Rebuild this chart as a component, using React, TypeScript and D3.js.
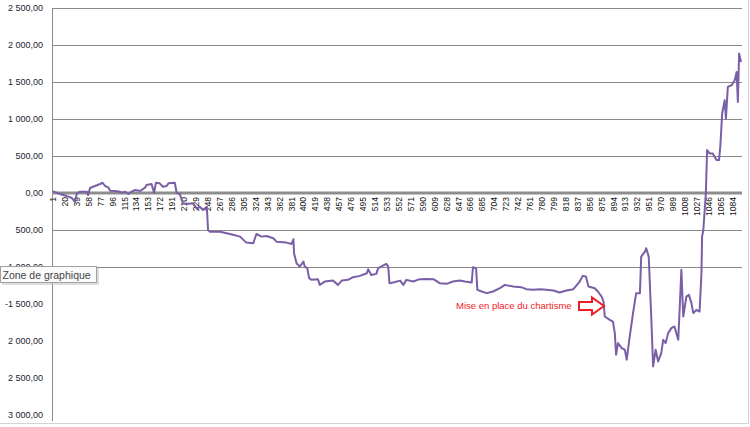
import React from 'react';
import * as d3 from 'd3';

const categories: number[] = [
  1, 20, 39, 58, 77, 96, 115, 134, 153, 172, 191, 210, 229, 248, 267, 286, 305, 324, 343, 362,
  381, 400, 419, 438, 457, 476, 495, 514, 533, 552, 571, 590, 609, 628, 647, 666, 685, 704, 723,
  742, 761, 780, 799, 818, 837, 856, 875, 894, 913, 932, 951, 970, 989, 1008, 1027, 1046, 1065, 1084,
];

const pointIndex: number[] = [
  1, 7, 12, 23, 31, 36, 39, 44, 55, 57, 60, 68, 76, 80, 84, 89, 92, 100, 108, 110, 116, 121, 126,
  132, 140, 148, 150, 158, 162, 165, 171, 176, 182, 185, 195, 198, 203, 208, 214, 224, 230, 235,
  240, 246, 248, 251, 267, 283, 299, 309, 320, 325, 333, 341, 352, 357, 373, 381, 384, 385, 389,
  394, 400, 402, 406, 409, 413, 423, 426, 434, 447, 455, 461, 471, 479, 490, 501, 503, 508, 516,
  519, 532, 535, 537, 543, 554, 559, 564, 575, 585, 596, 607, 617, 628, 638, 649, 657, 668, 670,
  675, 677, 684, 692, 702, 713, 721, 734, 747, 755, 766, 776, 787, 798, 803, 808, 819, 830, 840,
  845, 850, 854, 864, 869, 875, 878, 880, 888, 893, 896, 898, 901, 907, 912, 915, 919, 925, 930,
  936, 938, 944, 946, 950, 954, 957, 961, 965, 970, 973, 977, 981, 986, 991, 997, 999, 1002, 1005,
  1010, 1014, 1018, 1021, 1026, 1031, 1034, 1035, 1037, 1041, 1043, 1047, 1052, 1058, 1062, 1064,
  1067, 1071, 1073, 1076, 1082, 1087, 1090, 1092, 1094, 1097,
];

const pointValue: number[] = [
  20, 5, -14, -41, -68, -118, -4, 18, 18, -27, 68, 95, 122, 139, 95, 77, 31, 27, 18, 4, 18, -14, 18,
  41, 27, 77, 108, 122, 4, 139, 131, 85, 95, 131, 139, 4, -14, -139, -149, -139, -207, -185,
  -230, -185, -500, -523, -523, -554, -590, -671, -680, -554, -590, -581, -612, -658, -671, -689,
  -626, -815, -950, -996, -928, -996, -1017, -1152, -1175, -1166, -1243, -1198, -1185, -1243,
  -1185, -1175, -1139, -1121, -1085, -1031, -1108, -1094, -1017, -959, -996, -1220, -1212, -1185,
  -1243, -1175, -1198, -1166, -1162, -1166, -1220, -1229, -1198, -1185, -1198, -1212, -1004,
  -1017, -1310, -1333, -1355, -1333, -1288, -1243, -1266, -1274, -1301, -1310, -1301, -1310,
  -1320, -1333, -1347, -1320, -1301, -1198, -1121, -1131, -1266, -1288, -1333, -1401, -1469,
  -1671, -1716, -1739, -1896, -2189, -2031, -2098, -2121, -2256, -1986, -1625, -1355, -1355, -861,
  -793, -747, -861, -1671, -2347, -2121, -2279, -2166, -1986, -2031, -1896, -1828, -1806, -1986,
  -1625, -1040, -1671, -1401, -1378, -1490, -1625, -1581, -1604, -1085, -590, -500, -4, 581, 536,
  536, 446, 446, 626, 1077, 1256, 1009, 1436, 1459, 1527, 1639, 1233, 1887, 1774,
];

const yTickValues: number[] = [2500, 2000, 1500, 1000, 500, 0, -500, -1000, -1500, -2000, -2500, -3000];
const yTickLabels: string[] = [
  '2 500,00', '2 000,00', '1 500,00', '1 000,00', '500,00', '0,00', '500,00', '1 000,00',
  '-1 500,00', '2 000,00', '2 500,00', '3 000,00',
];
const gridValues: number[] = [2500, 2000, 1500, 1000, 500, -500, -1000];

const annotationText = 'Mise en place du chartisme';
const tooltipText = 'Zone de graphique';

export default function App() {
  const W = 750;
  const H = 427;
  const x = d3.scaleLinear().domain([1, 1097]).range([53, 741]);
  const y = d3.scaleLinear().domain([-3000, 2500]).range([414.7, 8.3]);
  const data = pointIndex.map((d, i) => [d, pointValue[i]] as [number, number]);
  const line = d3
    .line<[number, number]>()
    .x((d) => x(d[0]))
    .y((d) => y(d[1]));
  const font = '"Liberation Sans", Arial, sans-serif';
  const x0 = 52;
  const x1 = 742;

  return (
    <svg
      width={W}
      height={H}
      style={{ position: 'absolute', left: 0, top: 0, background: '#fff' }}
      fontFamily={font}
    >
      <rect x={0} y={0} width={W} height={H} fill="#fff" />
      {/* outer frame */}
      <line x1={0} x2={748} y1={423.5} y2={423.5} stroke="#d4d4d4" strokeWidth={1} />
      <line x1={748.5} x2={748.5} y1={0} y2={424} stroke="#d4d4d4" strokeWidth={1} />
      {/* gridlines */}
      {gridValues.map((v) => (
        <line
          key={'g' + v}
          x1={x0}
          x2={x1}
          y1={Math.round(y(v)) + 0.5}
          y2={Math.round(y(v)) + 0.5}
          stroke="#8a8a8a"
          strokeWidth={1}
        />
      ))}
      {/* y axis line */}
      <line x1={x0 + 0.5} x2={x0 + 0.5} y1={8} y2={421} stroke="#8a8a8a" strokeWidth={1} />
      {/* y labels */}
      {yTickValues.map((v, i) => (
        <text
          key={'yl' + v}
          x={43}
          y={y(v) + 3}
          textAnchor="end"
          fontSize={9}
          fill="#1c1c30"
        >
          {yTickLabels[i]}
        </text>
      ))}
      {/* zero axis */}
      <line x1={x0} x2={x1} y1={y(0)} y2={y(0)} stroke="#8e8e8e" strokeWidth={3} />
      {/* x labels */}
      {categories.map((c) => (
        <text
          key={'xl' + c}
          transform={`translate(${x(c) + 3},${197}) rotate(-90)`}
          textAnchor="end"
          fontSize={8.5}
          fill="#111"
        >
          {String(c)}
        </text>
      ))}
      {/* series */}
      <path d={line(data) || ''} fill="none" stroke="#7a5fa6" strokeWidth={2} strokeLinejoin="round" />
      {/* annotation */}
      <text x={456} y={309} fontSize={9.5} fill="#ee1c25">
        {annotationText}
      </text>
      <path
        d="M579,302 L592,302 L592,297.5 L604,306 L592,314.5 L592,310 L579,310 Z"
        fill="#fff"
        stroke="#ee1c25"
        strokeWidth={2}
        strokeLinejoin="miter"
      />
      {/* tooltip */}
      <rect x={2} y={268} width={97} height={17} fill="#c8c8c8" opacity={0.6} />
      <rect x={0.5} y={266.5} width={96} height={16} fill="#fbfbfb" stroke="#a0a0a0" strokeWidth={1} />
      <text x={2.5} y={278.5} fontSize={10.5} fill="#454545">
        {tooltipText}
      </text>
    </svg>
  );
}
